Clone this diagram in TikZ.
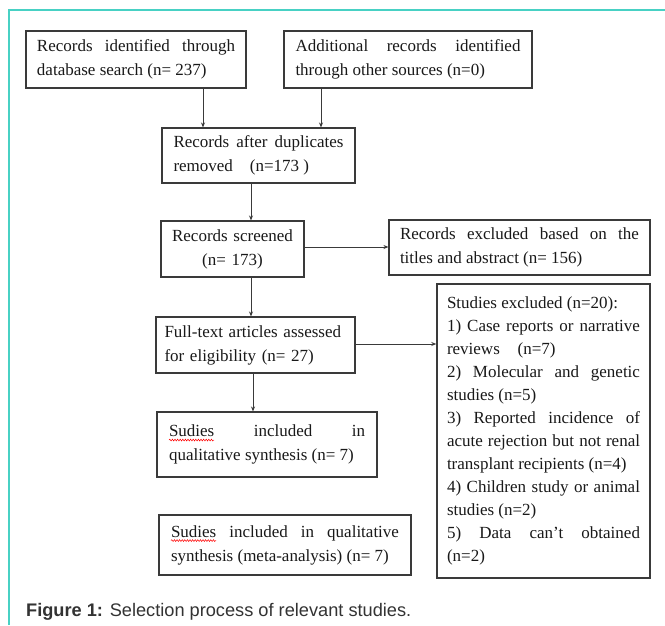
\documentclass[tikz,border=0pt]{standalone}
\usepackage{fontspec}
\setmainfont{Liberation Serif}
\newfontfamily\capfont{Liberation Sans}
\usetikzlibrary{arrows.meta,decorations.pathmorphing}
\definecolor{frameteal}{HTML}{48D1C4}
\definecolor{linegray}{HTML}{3A3A3A}
\hyphenpenalty=10000
\exhyphenpenalty=10000
\tolerance=10000
\hbadness=10000
\adjdemerits=0
\begin{document}
\begin{tikzpicture}[x=1pt,y=-1pt,
  box/.style={draw=linegray, line width=1.1pt, inner sep=0pt,
    font=\fontsize{17}{24}\selectfont,
    text=black!90, align=justify},
  arr/.style={draw=linegray, line width=1pt, -{Stealth[length=5pt,width=4pt]}},
  spell/.style={draw=red, line width=0.5pt, decorate,
    decoration={snake, amplitude=0.9pt, segment length=2.6pt}}]
\useasboundingbox (0,0) rectangle (665,625);
\fill[white] (0,0) rectangle (665,625);
\draw[frameteal, line width=1.5pt] (9,625) -- (9,10) -- (665,10);

\node[box, minimum width=220, minimum height=57, text width=198] (b1) at (136,59.5)
  {Records identified through\linebreak database search (n= 237)};
\node[box, minimum width=248, minimum height=57, text width=225] (b2) at (408,59.5)
  {Additional records identified\linebreak through other sources (n=0)};
\node[box, minimum width=193, minimum height=55, text width=170] (b3) at (258.5,155.5)
  {Records after duplicates\linebreak removed\hspace{0.75em} (n=173 )};
\node[box, minimum width=143, minimum height=56, text width=130, align=center] (b4) at (232.5,249)
  {Records screened\\(n= 173)};
\node[box, minimum width=261, minimum height=55, text width=239] (b5) at (519.5,247.5)
  {Records excluded based on the\linebreak titles and abstract (n= 156)};
\node[box, minimum width=199, minimum height=56, text width=182, align=left] (b6) at (255.5,345)
  {Full-text articles assessed\\for eligibility (n= 27)};
\node[box, line width=1.4pt, minimum width=213, minimum height=294, text width=193,
  font=\fontsize{17}{23}\selectfont] (b7) at (543.5,431)
  {Studies excluded (n=20):\newline
   1) Case reports or narrative\linebreak
   reviews\hspace{0.8em} (n=7)\newline
   2) Molecular and genetic\linebreak
   studies (n=5)\newline
   3) Reported incidence of\linebreak
   acute rejection but not renal\linebreak
   transplant recipients (n=4)\newline
   4) Children study or animal\linebreak
   studies (n=2)\newline
   5) Data can't obtained\linebreak
   (n=2)};
\node[box, minimum width=220, minimum height=65, text width=196] (b8) at (267,444.5)
  {Sudies included in\linebreak qualitative~synthesis~(n=~7)};
\node[box, minimum width=252, minimum height=60, text width=228] (b9) at (285,545)
  {Sudies included in qualitative\linebreak synthesis (meta-analysis) (n= 7)};
\draw[spell] ([yshift=-3.5pt]b8.text) -- ++(45,0);
\draw[spell] ([yshift=-3.5pt]b9.text) -- ++(45,0);

\coordinate (x1) at (203,0);
\coordinate (x2) at (321,0);
\coordinate (x3) at (251,0);
\coordinate (x4) at (253,0);
\coordinate (y1) at (0,247);
\coordinate (y2) at (0,344);
\draw[arr] (b1.south -| x1) -- (b3.north -| x1);
\draw[arr] (b2.south -| x2) -- (b3.north -| x2);
\draw[arr] (b3.south -| x3) -- (b4.north -| x3);
\draw[arr] (b4.south -| x3) -- (b6.north -| x3);
\draw[arr] (b6.south -| x4) -- (b8.north -| x4);
\draw[arr] (b4.east |- y1) -- (b5.west |- y1);
\draw[arr] (b6.east |- y2) -- (b7.west |- y2);

\node[anchor=base west, inner sep=0pt, font=\capfont\fontsize{18.2}{22}\selectfont,
  text=black!80] (cap) at (26,616)
  {\textbf{Figure 1:} Selection process of relevant studies.};
\end{tikzpicture}
\end{document}
